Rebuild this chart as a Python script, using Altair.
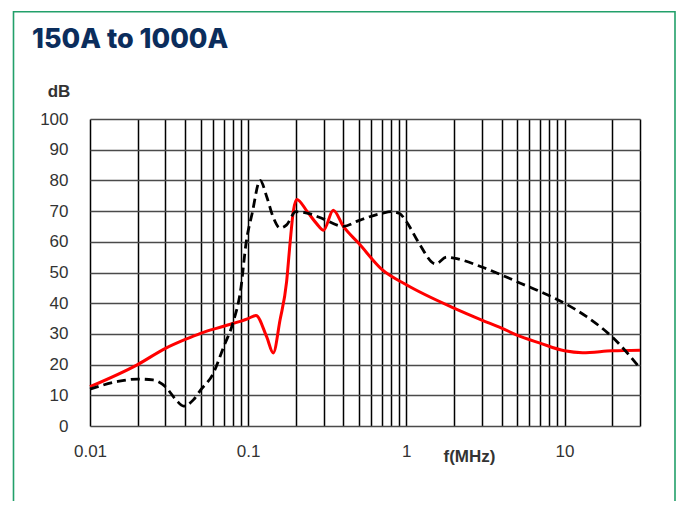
import altair as alt
import pandas as pd

# ---- data ----
freq_red = [0.01, 0.02, 0.03, 0.04, 0.05, 0.07, 0.1, 0.112, 0.131, 0.144, 0.159, 0.175,
            0.184, 0.193, 0.203, 0.235, 0.27, 0.3, 0.345, 0.4, 0.5, 0.7, 1.0, 2, 3, 4, 5,
            7, 10, 13, 20, 30]
db_red = [12.8, 20, 25.3, 28.2, 30.2, 32.5, 35, 36, 29, 23.8, 34.5, 47,
          59.6, 70, 73.8, 70, 66, 63.8, 70.3, 65, 59.5, 51, 46, 38.4, 34.5, 31.9, 29.6,
          27, 24.5, 23.9, 24.5, 24.7]

freq_blk = [0.01, 0.015, 0.02, 0.025, 0.03, 0.035, 0.039, 0.045, 0.05, 0.06, 0.07, 0.08,
            0.09, 0.097, 0.106, 0.119, 0.131, 0.144, 0.159, 0.175, 0.2, 0.25, 0.3, 0.4,
            0.5, 0.7, 0.8, 0.9, 1.0, 1.2, 1.53, 1.8, 2, 3, 4, 5, 7, 10, 13.8, 20, 30]
db_blk = [12, 14.5, 15.3, 15, 12.8, 8.5, 6.5, 8.5, 11.7, 17, 25.8, 33.5,
          45, 59.6, 69.3, 80, 74.7, 68, 64.5, 65.5, 69.8, 69, 67.4, 65,
          66.9, 69.3, 69.8, 69.3, 66.6, 59.6, 52.8, 55, 54.7, 51.8, 49.2, 47, 43.8, 40, 35.6, 29, 18.9]

grid_f = [0.01, 0.02, 0.03, 0.04, 0.05, 0.06, 0.07, 0.08, 0.09,
          0.1, 0.2, 0.3, 0.4, 0.5, 0.6, 0.7, 0.8, 0.9,
          1, 2, 3, 4, 5, 6, 7, 8, 9,
          10, 20, 30]
x_labels = [0.01, 0.1, 1, 10]
y_ticks = [0, 10, 20, 30, 40, 50, 60, 70, 80, 90, 100]

title_text = "150A to 1000A"
y_title = "dB"
x_title = "f(MHz)"

red = pd.DataFrame({"f": freq_red, "db": db_red})
blk = pd.DataFrame({"f": freq_blk, "db": db_blk})

LABEL_FONT = "Liberation Sans"

xscale = alt.Scale(type="log", domain=[0.01, 30], nice=False)
yscale = alt.Scale(domain=[0, 100], nice=False)

label_cond = " || ".join(f"datum.value == {v}" for v in x_labels)
xaxis = alt.Axis(values=grid_f, format="~g", labelExpr=f"({label_cond}) ? datum.label : ''",
                 grid=True, gridColor="#000000", gridWidth=1.5, gridOpacity=1,
                 ticks=False, domain=False, labelFlush=False, labelOverlap=False,
                 labelFont=LABEL_FONT, labelFontSize=17, labelColor="#333333",
                 labelPadding=17, title=None)
yaxis = alt.Axis(values=y_ticks, grid=True, gridColor="#4a4a4a", gridWidth=1.5, gridOpacity=1,
                 ticks=False, domain=False, labelFont=LABEL_FONT, labelFontSize=17,
                 labelColor="#333333", labelPadding=22, title=None)

red_line = alt.Chart(red).mark_line(color="#ff0000", strokeWidth=3, interpolate="monotone").encode(
    x=alt.X("f:Q", scale=xscale, axis=xaxis),
    y=alt.Y("db:Q", scale=yscale, axis=yaxis),
)
blk_line = alt.Chart(blk).mark_line(color="#000000", strokeWidth=2.8, strokeDash=[9, 5],
                                    interpolate="monotone").encode(
    x=alt.X("f:Q", scale=xscale, axis=xaxis),
    y=alt.Y("db:Q", scale=yscale, axis=yaxis),
)

one = pd.DataFrame({"t": [title_text]})
title = alt.Chart(one).mark_text(font="Inter", fontSize=27, fontWeight=800, color="#0b2d5c",
                                 align="left", baseline="alphabetic").encode(
    x=alt.value(-58), y=alt.value(-71), text="t:N")

ylab = alt.Chart(pd.DataFrame({"t": [y_title]})).mark_text(
    font=LABEL_FONT, fontSize=17, fontWeight="bold", color="#333333",
    align="center", baseline="alphabetic").encode(
    x=alt.value(-31), y=alt.value(-22), text="t:N")

xlab = alt.Chart(pd.DataFrame({"t": [x_title]})).mark_text(
    font=LABEL_FONT, fontSize=17, fontWeight="bold", color="#333333",
    align="center", baseline="alphabetic").encode(
    x=alt.value(379.5), y=alt.value(343), text="t:N")

border = alt.Chart(pd.DataFrame({"t": [0]})).mark_rect(
    fill="transparent", stroke="#22a06a", strokeWidth=1.6).encode(
    x=alt.value(-76.5), x2=alt.value(585), y=alt.value(-107.3), y2=alt.value(430))

chart = alt.layer(border, red_line, blk_line, title, ylab, xlab).properties(
    width=550, height=307,
    autosize=alt.AutoSizeParams(type="none"),
    padding={"left": 82, "top": 111, "right": 36, "bottom": 75},
    background="white",
).configure_view(strokeWidth=0)

chart.save("out.html", embed_options={"renderer": "svg", "actions": False})
